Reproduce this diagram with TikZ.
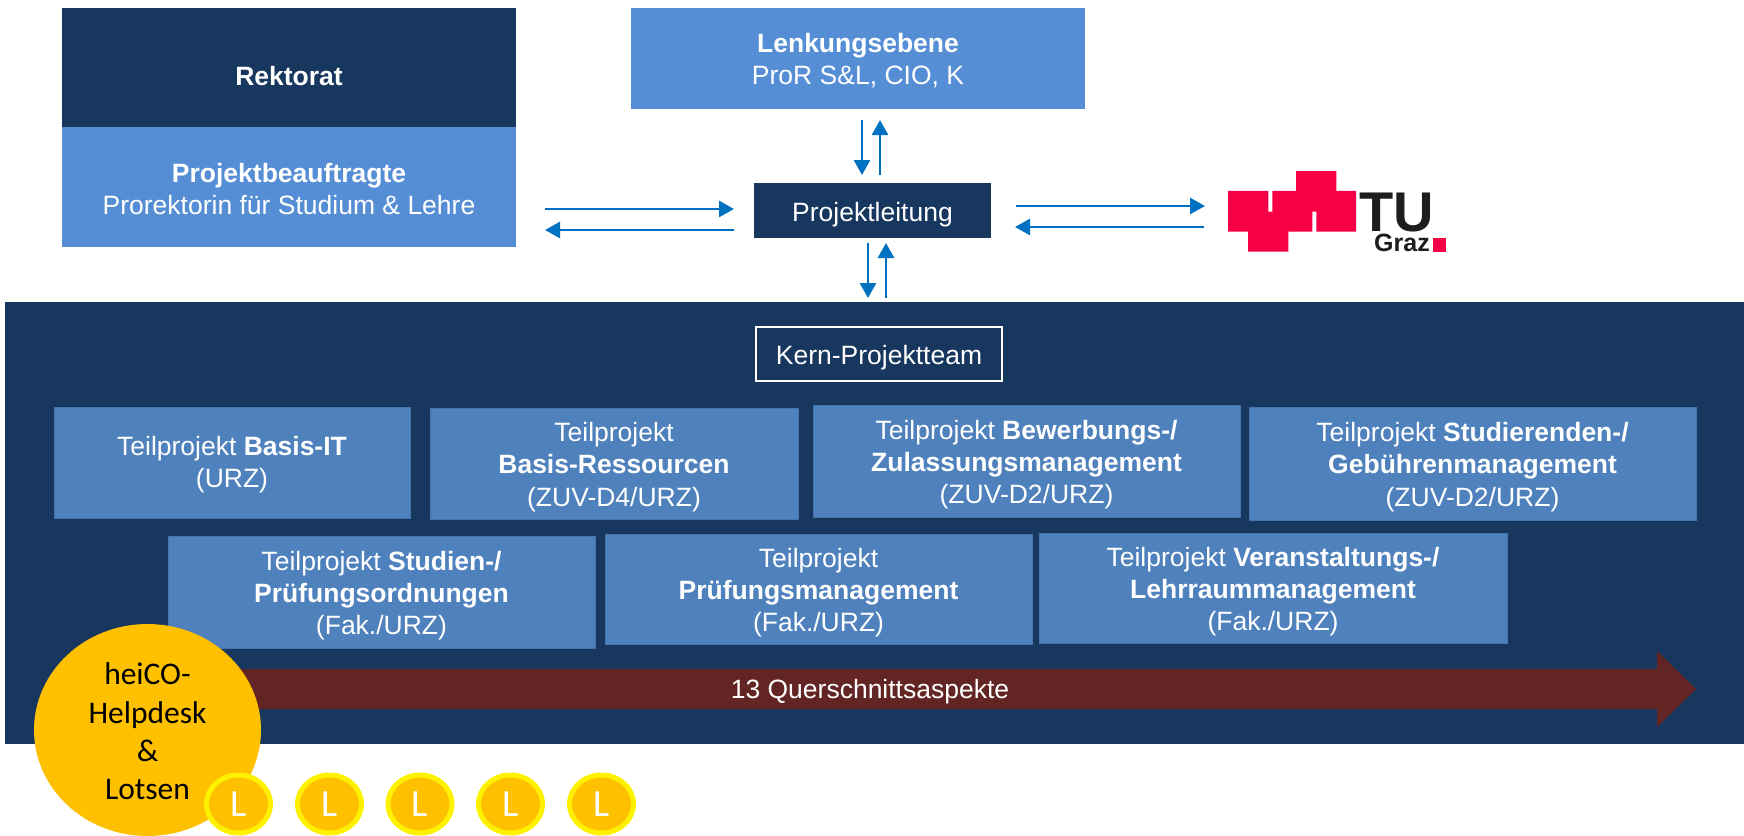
\documentclass[tikz,border=0pt]{standalone}
\usepackage{fontspec}
\setmainfont{Liberation Sans}
\newfontfamily\calfont{Carlito}
\usetikzlibrary{arrows.meta,shapes.geometric,shapes.arrows}
\definecolor{navy}{HTML}{17375E}
\definecolor{midblue}{HTML}{558ED5}
\definecolor{tpblue}{HTML}{4F81BD}
\definecolor{arrowblue}{HTML}{0070C0}
\definecolor{darkred}{HTML}{632523}
\definecolor{orangec}{HTML}{FFC000}
\definecolor{logored}{HTML}{F70146}
\definecolor{logoblack}{HTML}{1D1D1B}
\tikzset{
  x=1pt,y=-1pt,
  boxtext/.style={text=white,align=center,font=\fontsize{26.5}{32.3}\selectfont,inner sep=0pt},
  navyfill/.style={fill=navy,inner sep=0pt},
  midfill/.style={fill=midblue,inner sep=0pt},
  tpfill/.style={fill=tpblue,draw=tpblue!82!navy,line width=0.8pt,inner sep=0pt},
  kernframe/.style={draw=white,line width=2.6pt,inner sep=0pt},
  flow/.style={draw=arrowblue,line width=2.6pt,-{Triangle[width=16pt,length=15pt]}},
  lotse/.style={ellipse,draw=yellow,line width=5pt,fill=orangec,text=white,inner sep=0pt,
    minimum width=64pt,minimum height=58pt,font=\calfont\fontsize{38.5}{38.5}\selectfont},
}
% box from corner to corner, with a text node on its centre (vertical offset #7)
\newcommand{\pbox}[8]{%
  \node[#2,minimum width=#5pt-#3pt,minimum height=#6pt-#4pt,anchor=center]
    (#1) at ({(#3+#5)/2},{(#4+#6)/2}) {};
  \node[boxtext] (#1-text) at ([yshift=-#7pt]#1.center) {#8};}
\begin{document}
\begin{tikzpicture}
\useasboundingbox (0,0) rectangle (1744,835);
\fill[white] (0,0) rectangle (1744,835);

\pbox{rektorat}{navyfill}{62}{8}{516}{127}{9}{\textbf{Rektorat}}
\pbox{beauftragt}{midfill}{62}{127}{516}{247}{2}{\textbf{Projektbeauftragte}\\Prorektorin für Studium \& Lehre}
\pbox{lenkung}{midfill}{631}{8}{1085}{109}{2}{\textbf{Lenkungsebene}\\ProR S\&L, CIO, K}
\pbox{leitung}{navyfill}{754}{183}{991}{238}{4}{Projektleitung}

\node[navyfill,minimum width=1739pt,minimum height=442pt] (panel) at (874.5,523) {};

\pbox{kern}{kernframe}{756}{327}{1002}{381}{4}{Kern-Projektteam}

\pbox{tpa}{tpfill}{54}{407}{410}{518}{2}{Teilprojekt \textbf{Basis-IT}\\(URZ)}
\pbox{tpb}{tpfill}{430}{408}{798}{519}{3.5}{Teilprojekt\\\textbf{Basis-Ressourcen}\\(ZUV-D4/URZ)}
\pbox{tpc}{tpfill}{813}{405}{1240}{517}{3.5}{Teilprojekt \textbf{Bewerbungs-/}\\\textbf{Zulassungsmanagement}\\(ZUV-D2/URZ)}
\pbox{tpd}{tpfill}{1249}{407}{1696}{520}{3.5}{Teilprojekt \textbf{Studierenden-/}\\\textbf{Gebührenmanagement}\\(ZUV-D2/URZ)}
\pbox{tpe}{tpfill}{168}{536}{595}{648}{3.5}{Teilprojekt \textbf{Studien-/}\\\textbf{Prüfungsordnungen}\\(Fak./URZ)}
\pbox{tpf}{tpfill}{605}{534}{1032}{644}{3.5}{Teilprojekt\\\textbf{Prüfungsmanagement}\\(Fak./URZ)}
\pbox{tpg}{tpfill}{1039}{533}{1507}{643}{3.5}{Teilprojekt \textbf{Veranstaltungs-/}\\\textbf{Lehrraummanagement}\\(Fak./URZ)}

% cross-cutting arrow
\fill[darkred] (200,669) -- (1657,669) -- (1657,651) -- (1696,689) -- (1657,727) -- (1657,709) -- (200,709) -- cycle;
\node[text=white,inner sep=0pt,font=\fontsize{26.5}{30}\selectfont] (quer) at (870,692) {13 Querschnittsaspekte};

% helpdesk
\node[ellipse,fill=orangec,minimum width=227pt,minimum height=212pt,inner sep=0pt] (help) at (147.5,730) {};
\node[inner sep=0pt,align=center,text=black,font=\calfont\fontsize{31.5}{38.4}\selectfont] (helptext) at (147.5,731.5)
  {heiCO-\\Helpdesk\\\&\\Lotsen};
\node[lotse] (l1) at (238.5,804) {\raisebox{-2pt}{L}};
\node[lotse] (l2) at (329.5,804) {\raisebox{-2pt}{L}};
\node[lotse] (l3) at (420,804) {\raisebox{-2pt}{L}};
\node[lotse] (l4) at (510.5,804) {\raisebox{-2pt}{L}};
\node[lotse] (l5) at (601.5,804) {\raisebox{-2pt}{L}};

% connector end points
\coordinate (ta) at (862,120); \coordinate (tb) at (862,175);
\coordinate (tc) at (880,175); \coordinate (td) at (880,120);
\coordinate (la) at (545,209); \coordinate (lb) at (734,209);
\coordinate (lc) at (734,230); \coordinate (ld) at (545,230);
\coordinate (ra) at (1016,206); \coordinate (rb) at (1205,206);
\coordinate (rc) at (1204,227); \coordinate (rd) at (1015,227);
\coordinate (ba) at (868,243); \coordinate (bb) at (868,298);
\coordinate (bc) at (886,298); \coordinate (bd) at (886,243);
\draw[flow] (ta) -- (tb);
\draw[flow] (tc) -- (td);
\draw[flow] (la) -- (lb);
\draw[flow] (lc) -- (ld);
\draw[flow] (ra) -- (rb);
\draw[flow] (rc) -- (rd);
\draw[flow] (ba) -- (bb);
\draw[flow] (bc) -- (bd);

% TU Graz logo
\begin{scope}[shift={(1180,150)},x=0.3333pt,y=-0.3333pt]
\fill[logored] (144,123) -- (265,123) -- (265,185) -- (277,185) -- (277,123) -- (348,123) -- (348,63)
 -- (469,63) -- (469,123) -- (528,123) -- (528,245) -- (409,245) -- (409,185) -- (397,185) -- (397,245)
 -- (325,245) -- (325,305) -- (204,305) -- (204,245) -- (144,245) -- cycle;
\fill[logored] (759,265) rectangle (798,305);
\end{scope}
\node[anchor=base west,inner sep=0pt,text=logoblack,font=\fontsize{56}{56}\selectfont\bfseries] (tu) at (1359,231.5) {TU};
\node[anchor=base east,inner sep=0pt,text=logoblack,font=\fontsize{25}{25}\selectfont\bfseries] (graz) at (1430,251.5) {Graz};
\end{tikzpicture}
\end{document}
